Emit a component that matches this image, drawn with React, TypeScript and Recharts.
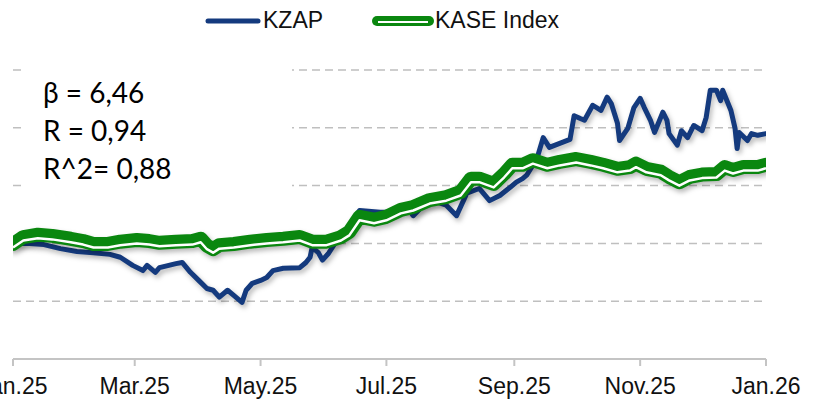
import * as React from 'react';
import { LineChart, Line, XAxis, YAxis, CartesianGrid } from 'recharts';

// x axis: day of year, Jan.25 = 0
const tickDays = [0, 59, 120, 181, 243, 304, 365];
const tickLabels = ['Jan.25', 'Mar.25', 'May.25', 'Jul.25', 'Sep.25', 'Nov.25', 'Jan.26'];
const yTicks = [80, 90, 100, 110, 120, 130];

const kzapDays = [
    0, 8, 15, 23, 31, 39, 47, 52, 58, 63,
    65, 69, 71, 79, 82, 86, 90, 94, 97, 100,
    104, 107, 111, 113, 116, 120, 123, 126, 131, 139,
    142, 144, 145, 148, 150, 153, 157, 162, 167, 168,
    178, 184, 191, 194, 199, 206, 210, 215, 220, 226,
    231, 236, 241, 244, 247, 249, 254, 257, 260, 265,
    270, 272, 275, 277, 281, 285, 288, 290, 293, 294,
    298, 301, 304, 306, 309, 311, 315, 317, 318, 322,
    324, 327, 330, 334, 336, 338, 341, 343, 344, 348,
    350, 351, 352, 356, 358, 361, 365
];
const kzapValues = [
    100.0, 100.0, 99.8, 99.1, 98.6, 98.4, 98.1, 97.6, 96.2, 95.3,
    96.2, 95.0, 95.8, 96.5, 96.7, 95.0, 93.6, 92.2, 91.9, 90.7,
    91.9, 91.0, 89.8, 91.9, 93.1, 93.6, 94.1, 95.3, 95.7, 95.8,
    96.7, 97.6, 99.3, 98.4, 97.1, 98.3, 100.5, 101.7, 105.2, 105.7,
    105.4, 105.4, 106.2, 104.8, 106.6, 107.1, 106.6, 104.8, 108.7, 109.5,
    107.4, 108.3, 109.7, 110.6, 111.2, 111.8, 114.7, 118.3, 116.6, 117.3,
    118.0, 122.1, 121.6, 121.3, 123.9, 123.0, 125.3, 124.2, 120.8, 117.8,
    119.9, 123.5, 125.1, 123.5, 121.3, 119.2, 122.7, 121.3, 119.0, 117.0,
    119.5, 118.3, 120.4, 119.5, 121.8, 126.5, 126.5, 124.7, 126.5, 123.0,
    119.9, 116.4, 119.2, 117.8, 119.0, 118.7, 119.0
];

const kaseDays = [
    0, 5, 12, 19, 28, 34, 39, 46, 52, 60,
    66, 71, 79, 87, 91, 94, 97, 100, 107, 115,
    123, 131, 139, 145, 152, 159, 163, 168, 175, 181,
    188, 194, 202, 210, 217, 222, 226, 233, 238, 242,
    247, 252, 259, 265, 273, 280, 286, 293, 299, 302,
    307, 314, 318, 323, 328, 334, 341, 345, 349, 354,
    361, 365
];
const kaseValues = [
    99.9, 101.1, 101.5, 101.3, 100.8, 100.4, 99.9, 99.9, 100.3, 100.6,
    100.4, 100.1, 100.3, 100.4, 100.8, 99.6, 99.0, 99.7, 99.9, 100.3,
    100.6, 100.8, 101.1, 100.3, 100.3, 101.1, 102.0, 104.6, 104.1, 104.6,
    105.8, 106.3, 107.5, 108.0, 108.9, 111.2, 111.2, 110.3, 112.0, 113.6,
    113.6, 114.4, 113.6, 114.1, 114.6, 114.1, 113.6, 112.9, 113.2, 113.8,
    112.9, 112.4, 111.5, 110.6, 111.5, 111.9, 112.0, 113.2, 112.7, 113.2,
    113.2, 113.6
];

const statLines = ['β = 6,46', 'R = 0,94', 'R^2= 0,88'];

const KZAP_COLOR = '#143a7e';
const KASE_COLOR = '#0a870f';

const kzapData = kzapDays.map((d, i) => ({ day: d, value: kzapValues[i] }));
const kaseData = kaseDays.map((d, i) => ({ day: d, value: kaseValues[i] }));

const fmtTick = (d: number) => {
    const i = tickDays.indexOf(d);
    return i >= 0 ? tickLabels[i] : '';
};

export default function App() {
    return (
        <div style={{ position: 'absolute', left: 0, top: 0, width: 814, height: 403, background: '#fff', fontFamily: "'Liberation Sans', Arial, sans-serif" }}>
            <style>{`
                .kzap-line path, .kase-outer path { filter: drop-shadow(2px 3px 2.5px rgba(0,0,0,0.28)); }
                .kase-inner path { transform: translateY(3.5px); }
            `}</style>
            <LineChart width={814} height={403} margin={{ top: 70, right: 48, bottom: 4, left: 13 }}>
                <CartesianGrid vertical={false} stroke='#bfbfbf' strokeDasharray='8 5' strokeWidth={1.5} />
                <XAxis
                    type='number'
                    dataKey='day'
                    domain={[0, 365]}
                    ticks={tickDays}
                    tickFormatter={fmtTick}
                    interval={0}
                    height={40}
                    tickSize={7}
                    tickMargin={12}
                    stroke='#c4c4c4'
                    strokeWidth={2}
                    tick={{ fill: '#111', fontSize: 23 }}
                    allowDataOverflow
                />
                <YAxis hide domain={[80, 130]} ticks={yTicks} />
                <Line className='kzap-line' data={kzapData} dataKey='value' type='linear' stroke={KZAP_COLOR} strokeWidth={5}
                    strokeLinejoin='round' strokeLinecap='round' dot={false} activeDot={false} isAnimationActive={false} />
                <Line className='kase-outer' data={kaseData} dataKey='value' type='linear' stroke={KASE_COLOR} strokeWidth={14}
                    strokeLinejoin='round' strokeLinecap='round' dot={false} activeDot={false} isAnimationActive={false} />
                <Line className='kase-inner' data={kaseData} dataKey='value' type='linear' stroke='#fff' strokeWidth={2.5}
                    strokeLinejoin='round' dot={false} activeDot={false} isAnimationActive={false} />
            </LineChart>

            {/* legend */}
            <svg style={{ position: 'absolute', left: 204, top: 16 }} width={58} height={10}>
                <line x1={4} y1={5} x2={54} y2={5} stroke={KZAP_COLOR} strokeWidth={5} strokeLinecap='round' />
            </svg>
            <div style={{ position: 'absolute', left: 263, top: 7, fontSize: 23, color: '#111' }}>KZAP</div>
            <svg style={{ position: 'absolute', left: 371, top: 14, }} width={64} height={14}>
                <line x1={6} y1={7} x2={58} y2={7} stroke={KASE_COLOR} strokeWidth={10} strokeLinecap='round' />
                <line x1={7} y1={8} x2={57} y2={8} stroke='#fff' strokeWidth={2.2} />
            </svg>
            <div style={{ position: 'absolute', left: 435, top: 7, fontSize: 23, color: '#111' }}>KASE Index</div>

            {/* stats box */}
            <div style={{
                position: 'absolute', left: 22, top: 62, width: 270, height: 130, background: '#fff',
                boxSizing: 'border-box', paddingTop: 11, paddingLeft: 21,
                fontFamily: "Lato, 'Open Sans', sans-serif", fontSize: 28, lineHeight: '38px', color: '#000'
            }}>
                {statLines.map((s) => <div key={s}>{s}</div>)}
            </div>
        </div>
    );
}
